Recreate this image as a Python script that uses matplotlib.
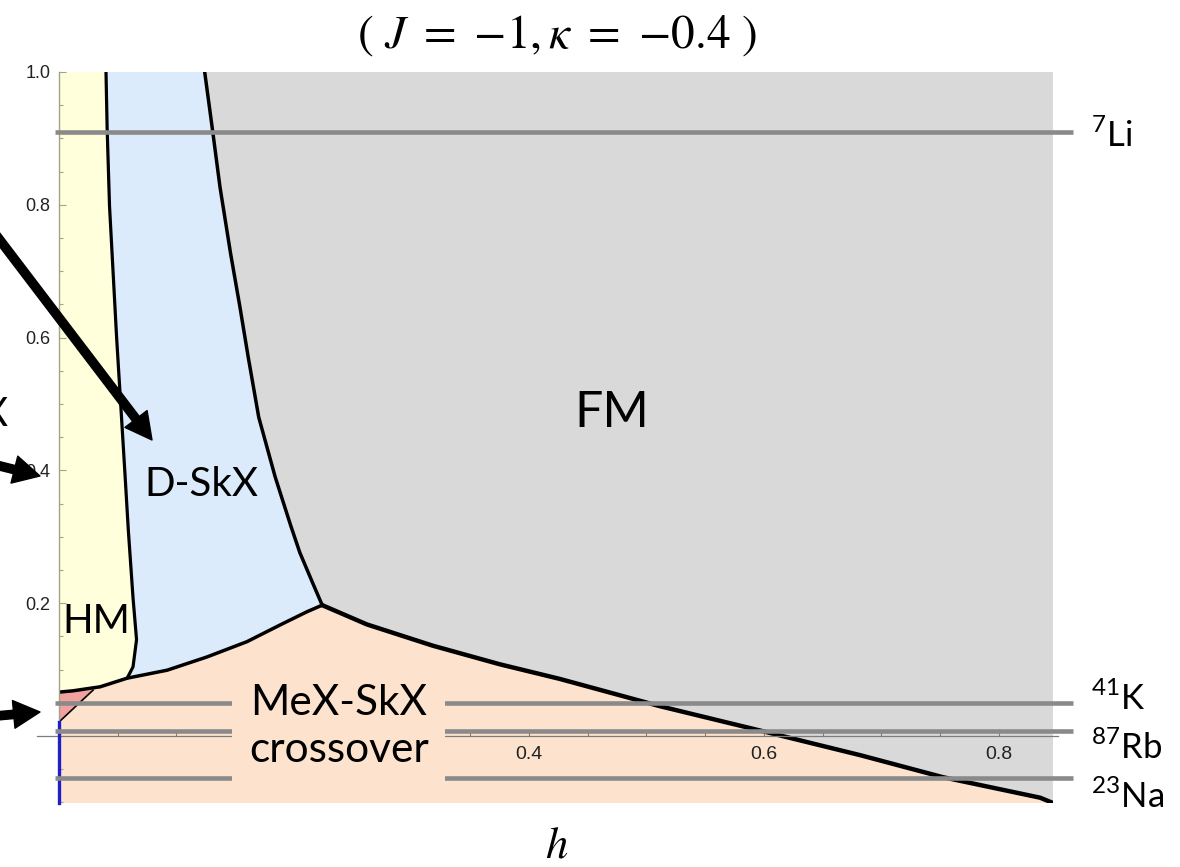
import matplotlib
matplotlib.use('Agg')
import matplotlib.pyplot as plt
from matplotlib.ticker import MultipleLocator, FixedLocator, FixedFormatter
import numpy as np

W, H = 1180, 867

# ---- phase boundaries (h, y) ----
hm_dskx_h = [0.040, 0.041, 0.043, 0.049, 0.056, 0.059, 0.063, 0.066, 0.063, 0.058]
hm_dskx_y = [1.000, 0.913, 0.798, 0.601, 0.399, 0.310, 0.208, 0.145, 0.104, 0.087]
hm_low_h = [0.000, 0.012, 0.035, 0.058]
hm_low_y = [0.066, 0.068, 0.074, 0.087]
dskx_mex_h = [0.058, 0.092, 0.126, 0.160, 0.188, 0.211, 0.224]
dskx_mex_y = [0.087, 0.099, 0.119, 0.142, 0.167, 0.187, 0.197]
fm_dskx_h = [0.124, 0.131, 0.137, 0.146, 0.154, 0.161, 0.170, 0.184, 0.197, 0.205, 0.216, 0.224]
fm_dskx_y = [1.000, 0.908, 0.827, 0.727, 0.646, 0.571, 0.480, 0.390, 0.318, 0.276, 0.230, 0.197]
fm_mex_h = [0.224, 0.262, 0.318, 0.375, 0.426, 0.511, 0.597, 0.682, 0.752, 0.835, 0.846]
fm_mex_y = [0.197, 0.168, 0.136, 0.108, 0.086, 0.045, 0.008, -0.029, -0.062, -0.093, -0.101]
pink_h = [0.000, 0.029, 0.000]
pink_y = [0.066, 0.069, 0.021]
blue_h = [0.000, 0.000]
blue_y = [0.021, -0.101]

# ---- isotope reference lines ----
iso_mass = ['7', '41', '87', '23']
iso_elem = ['Li', 'K', 'Rb', 'Na']
iso_y = [0.910, 0.050, 0.008, -0.063]
iso_label_y = [0.887, 0.039, -0.035, -0.108]

# ---- ticks ----
xticks = [0.2, 0.4, 0.6, 0.8]
xticklabels = ['', '0.4', '0.6', '0.8']   # 0.2 label is hidden behind the crossover box
yticks = [0.2, 0.4, 0.6, 0.8, 1.0]
yticklabels = ['0.2', '0.4', '0.6', '0.8', '1.0']

C_HM = '#ffffdc'
C_DSKX = '#dcebfb'
C_FM = '#d9d9d9'
C_MEX = '#fde3cd'
C_PINK = '#f1a19e'
C_ISO = '#8a8a8a'

fig = plt.figure(figsize=(W / 100, H / 100), dpi=100)
ax = fig.add_axes([59 / W, (H - 803) / H, (1053 - 59) / W, (803 - 72) / H])
ax.set_xlim(0, 0.846)
ax.set_ylim(-0.101, 1.0)
ax.set_facecolor(C_MEX)

# regions
hm_x = [0.0] + hm_dskx_h + hm_low_h[::-1]
hm_yy = [1.0] + hm_dskx_y + hm_low_y[::-1]
ax.fill(hm_x, hm_yy, color=C_HM, lw=0, zorder=1)

ds_x = hm_dskx_h + dskx_mex_h + fm_dskx_h[::-1]
ds_y = hm_dskx_y + dskx_mex_y + fm_dskx_y[::-1]
ax.fill(ds_x, ds_y, color=C_DSKX, lw=0, zorder=1)

fm_x = fm_dskx_h + fm_mex_h + [0.846]
fm_y = fm_dskx_y + fm_mex_y + [1.0]
ax.fill(fm_x, fm_y, color=C_FM, lw=0, zorder=1)

ax.fill(pink_h, pink_y, color=C_PINK, lw=0, zorder=1)

# boundaries
ax.plot(hm_dskx_h, hm_dskx_y, color='black', lw=2.3, zorder=2, solid_capstyle='round')
ax.plot(hm_low_h + dskx_mex_h, hm_low_y + dskx_mex_y, color='black', lw=2.5, zorder=2,
        solid_joinstyle='round')
ax.plot(fm_dskx_h, fm_dskx_y, color='black', lw=2.5, zorder=2, solid_joinstyle='round')
ax.plot(fm_mex_h, fm_mex_y, color='black', lw=3.2, zorder=2, solid_joinstyle='round')
ax.plot(pink_h[1:], pink_y[1:], color='black', lw=1.2, zorder=2)
ax.plot(blue_h, blue_y, color='#1f1fc8', lw=2.4, zorder=3, clip_on=False)

# isotope lines
ax.hlines(iso_y, -0.003, 0.863, colors=C_ISO, lw=3.3, clip_on=False, zorder=3)
for m, e, yl in zip(iso_mass, iso_elem, iso_label_y):
    ax.text(0.878, yl, r'$^{\mathregular{%s}}$' % m + e, family='Lato', fontsize=25,
            va='baseline', ha='left', clip_on=False, zorder=5)

# axes styling
for s in ['top', 'right', 'bottom']:
    ax.spines[s].set_visible(False)
ax.spines['bottom'].set_position(('data', 0))
ax.spines['left'].set_color('#a3a38a')
ax.spines['left'].set_linewidth(1.0)
ax.plot([-0.019, 0.85], [0, 0], color='#7c7c7c', lw=0.9, clip_on=False, zorder=2.6)

ax.xaxis.set_major_locator(FixedLocator(xticks))
ax.xaxis.set_major_formatter(FixedFormatter(xticklabels))
ax.xaxis.set_minor_locator(MultipleLocator(0.05))
ax.yaxis.set_major_locator(FixedLocator(yticks))
ax.yaxis.set_major_formatter(FixedFormatter(yticklabels))
ax.yaxis.set_minor_locator(MultipleLocator(0.05))
ax.tick_params(axis='x', which='both', direction='in', colors='#7c7c7c', labelcolor='#222222',
               labelsize=14, pad=7, width=0.8)
ax.tick_params(axis='x', which='major', length=5)
ax.tick_params(axis='x', which='minor', length=4)
ax.tick_params(axis='y', which='both', direction='in', colors='#a3a38a', labelcolor='#222222',
               labelsize=13, pad=6, width=0.8)
ax.tick_params(axis='y', which='major', length=5)
ax.tick_params(axis='y', which='minor', length=3)
for lab in ax.get_xticklabels() + ax.get_yticklabels():
    lab.set_family('Liberation Sans')

# phase labels
ax.text(0.003, 0.155, 'HM', family='Lato', fontsize=29, va='baseline', ha='left', zorder=5)
ax.text(0.073, 0.361, 'D-SkX', family='Lato', fontsize=29, va='baseline', ha='left', zorder=5)
ax.text(0.439, 0.465, 'FM', family='Lato', fontsize=36, va='baseline', ha='left', zorder=5)
ax.text(0.238, 0.014, 'MeX-SkX\ncrossover', family='Lato', fontsize=30.5, ha='center', va='center',
        linespacing=1.3, zorder=4,
        bbox=dict(boxstyle='square,pad=0.4', fc=C_MEX, ec='none'))

# arrows (annotations)
ap = dict(facecolor='black', edgecolor='black', width=6, headwidth=20, headlength=19, shrink=0)
fig.add_artist(plt.Annotation('', xy=(152, H - 440), xytext=(-4, H - 235),
                              xycoords='figure pixels', arrowprops=ap))
fig.add_artist(plt.Annotation('', xy=(40, H - 476), xytext=(-4, H - 465),
                              xycoords='figure pixels', arrowprops=ap))
fig.add_artist(plt.Annotation('', xy=(40, H - 712), xytext=(-4, H - 716),
                              xycoords='figure pixels', arrowprops=ap))
fig.text(8 / W, 1 - 415 / H, 'X', family='Lato', fontsize=29, ha='right', va='center')

# title and axis label
fig.text(557 / W, 1 - 36 / H, r'$(\ J\ =\ {-}1,\kappa\ =\ {-}0.4\ )$', math_fontfamily='stix',
         fontsize=34, ha='center', va='center')
fig.text(557 / W, 1 - 845 / H, r'$h$', math_fontfamily='stix', fontsize=32,
         ha='center', va='center')

fig.savefig('out.png', dpi=100)
